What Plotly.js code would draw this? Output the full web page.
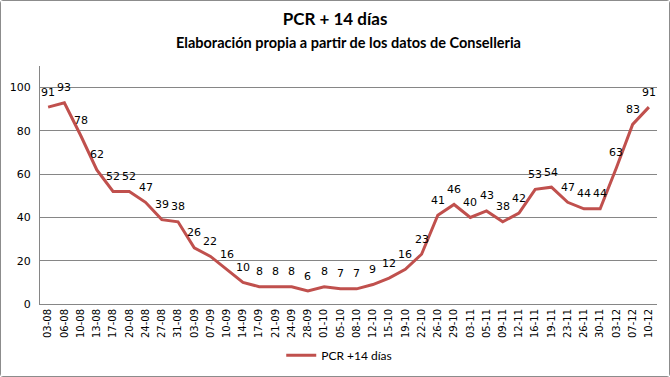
<!DOCTYPE html>
<html>
<head>
<meta charset="utf-8">
<script src="https://cdn.plot.ly/plotly-3.0.1.min.js"></script>
<style>
html,body{margin:0;padding:0;background:#fff;}
#chart{width:668px;height:375px;border:1px solid #8c8c8c;border-radius:3px;}
</style>
</head>
<body>
<div id="chart"></div>
<script>
const categories = ["03-08","06-08","10-08","13-08","17-08","20-08","24-08","27-08","31-08","03-09","07-09","10-09","14-09","17-09","21-09","24-09","28-09","01-10","05-10","08-10","12-10","15-10","19-10","22-10","26-10","29-10","03-11","05-11","09-11","12-11","16-11","19-11","23-11","26-11","30-11","03-12","07-12","10-12"];
const pcrValues = [91,93,78,62,52,52,47,39,38,26,22,16,10,8,8,8,6,8,7,7,9,12,16,23,41,46,40,43,38,42,53,54,47,44,44,63,83,91];
const seriesName = "PCR +14 días";
const titleText = "PCR + 14 días";
const subtitleText = "Elaboración propia a partir de los datos de Conselleria";
const yTicks = [0,20,40,60,80,100];

const trace = {
  type: 'scatter',
  mode: 'lines',
  x: categories,
  y: pcrValues,
  line: {color: '#C0504D', width: 3},
  name: seriesName,
  showlegend: true
};

const labelAnnotations = categories.map((c, i) => ({
  x: c, y: pcrValues[i], xref: 'x', yref: 'y',
  text: String(pcrValues[i]), showarrow: false,
  xanchor: 'center', yanchor: 'middle', yshift: 15,
  font: {family: 'DejaVu Sans, Verdana, sans-serif', size: 11, color: '#000'}
}));

const layout = {
  width: 668, height: 375,
  margin: {l: 39, r: 12, t: 65, b: 72, autoexpand: false},
  paper_bgcolor: '#fff', plot_bgcolor: '#fff',
  font: {family: 'DejaVu Sans, Verdana, sans-serif', size: 11, color: '#000'},
  title: {text: '<b>' + titleText + '</b>', font: {family: 'Lato, Calibri, sans-serif', size: 17, color: '#000'},
          x: 0.5, xanchor: 'center', y: 0.952, yanchor: 'middle', yref: 'container'},
  annotations: [{
    text: '<b>' + subtitleText + '</b>', xref: 'paper', yref: 'paper', x: 0.5, y: 1.1,
    xanchor: 'center', yanchor: 'middle', showarrow: false,
    font: {family: 'Lato, Calibri, sans-serif', size: 14.5, color: '#000'}
  }].concat(labelAnnotations),
  xaxis: {
    type: 'category', range: [-0.5, 37.5], tickangle: -90, automargin: false,
    tickfont: {family: 'DejaVu Sans, Verdana, sans-serif', size: 10},
    showgrid: false, showline: true, linecolor: '#868686', linewidth: 1,
    ticks: '', ticklen: 0, fixedrange: true
  },
  yaxis: {
    range: [0, 110], tickvals: yTicks, ticktext: yTicks.map(String), automargin: false,
    showgrid: true, gridcolor: '#868686', gridwidth: 1,
    showline: true, linecolor: '#868686', linewidth: 1,
    zeroline: false, ticks: '', tickfont: {size: 11}, ticklabelstandoff: 6
  },
  legend: {
    orientation: 'h', x: 0.485, xanchor: 'center', y: -0.215, yanchor: 'middle',
    font: {family: 'Lato, Calibri, sans-serif', size: 12}, itemwidth: 30
  },
  showlegend: true
};

Plotly.newPlot('chart', [trace], layout, {displayModeBar: false, staticPlot: true});
</script>
</body>
</html>
